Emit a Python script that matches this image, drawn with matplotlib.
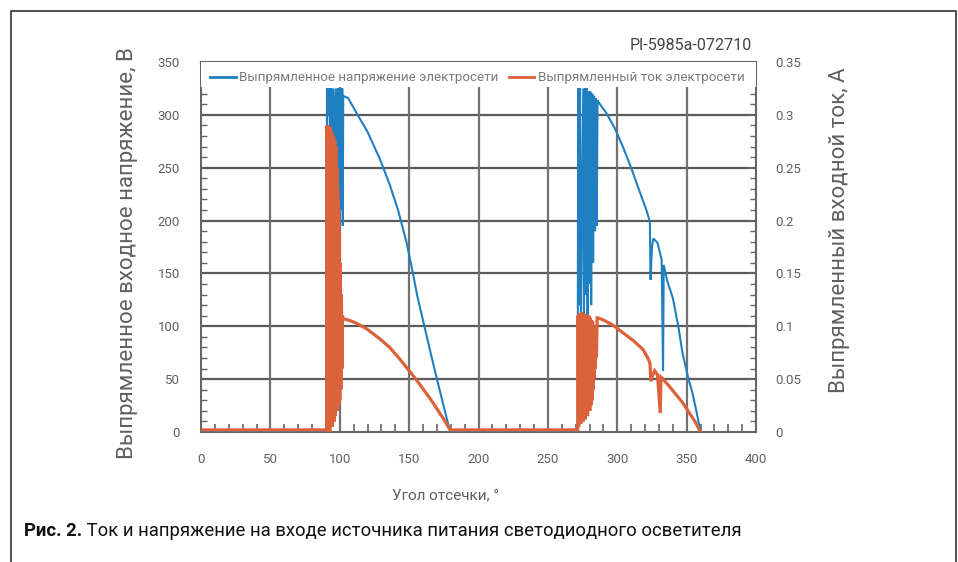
import matplotlib
matplotlib.use("Agg")
import matplotlib.pyplot as plt
from matplotlib.lines import Line2D
from matplotlib.patches import Rectangle
from matplotlib.ticker import MultipleLocator

# ---------------- data ----------------
# rectified mains voltage, V
volt_zero1_angle = [0, 90.5]
volt_zero1_val = [0, 0]
volt_osc1_angle = [90.6, 90.8, 91.5, 92.2, 93.0, 93.8, 94.6, 95.4, 96.3, 97.2, 98.0,
                   98.8, 99.6, 100.4, 101.2, 101.8, 102.2, 102.5]
volt_osc1_val = [0, 325, 300, 325, 280, 325, 270, 325, 265, 325, 250,
                 325, 230, 325, 210, 325, 195, 318]
volt_fall1_angle = [104, 106, 112, 120, 129, 136, 142, 148, 152, 156, 161, 166, 171, 175, 179, 180]
volt_fall1_val = [317, 316, 302, 284, 258, 234, 210, 180, 155, 128, 100, 72, 45, 24, 3, 0]
volt_zero2_angle = [180.5, 271.5]
volt_zero2_val = [0, 0]
volt_osc2_angle = [271.8, 272.3, 273.2, 273.8, 275.5, 276.0, 276.8, 277.3, 278.0, 278.6,
                   279.3, 279.8, 280.6, 281.2, 282.0, 282.6, 283.3, 284.0, 284.6, 285.2, 285.8]
volt_osc2_val = [325, 120, 325, 110, 325, 110, 325, 130, 325, 110,
                 322, 140, 322, 120, 320, 160, 318, 190, 316, 195, 314]
volt_fall2_angle = [286.5, 292, 298, 304, 310, 316, 321, 323.5, 324, 325, 326, 329, 332,
                    333, 333.5, 336, 340, 344, 347, 351, 354, 357, 359.6, 360]
volt_fall2_val = [312, 302, 288, 270, 250, 228, 210, 199, 144, 175, 183, 179, 163,
                  58, 158, 143, 127, 100, 75, 52, 38, 20, 3, 0]

# rectified mains current, A
curr_zero1_angle = [0, 90.5]
curr_zero1_val = [0.002, 0.002]
curr_osc1_angle = [90.8, 91.2, 91.6, 92.0, 92.4, 92.8, 93.2, 93.6, 94.0, 94.4, 94.8,
                   95.2, 95.6, 96.0, 96.4, 96.8, 97.2, 97.6, 98.0, 98.4, 98.8, 99.2,
                   99.6, 100.0, 100.4, 100.8, 101.2, 101.6, 102.0, 102.5]
curr_osc1_val = [0.29, 0.0, 0.29, 0.005, 0.288, 0.0, 0.288, 0.01, 0.285, 0.005, 0.282,
                 0.01, 0.28, 0.01, 0.275, 0.015, 0.27, 0.02, 0.25, 0.02, 0.22, 0.025,
                 0.19, 0.03, 0.16, 0.04, 0.13, 0.06, 0.11, 0.107]
curr_fall1_angle = [106, 112, 120, 129, 136, 142, 150, 156, 161, 166, 171, 175, 179.5]
curr_fall1_val = [0.106, 0.103, 0.097, 0.088, 0.080, 0.071, 0.058, 0.048, 0.039, 0.030,
                  0.020, 0.012, 0.002]
curr_zero2_angle = [180, 271.5]
curr_zero2_val = [0.002, 0.002]
curr_osc2_angle = [271.8, 272.2, 272.6, 273.0, 273.4, 273.8, 274.2, 274.6, 275.0, 275.4,
                   275.8, 276.2, 276.6, 277.0, 277.4, 277.8, 278.2, 278.6, 279.0, 279.4,
                   279.8, 280.2, 280.6, 281.0, 281.4, 281.8, 282.2, 282.6, 283.0, 283.4,
                   283.8, 284.2, 284.6, 285.0, 285.5]
curr_osc2_val = [0.11, 0.005, 0.112, 0.01, 0.11, 0.008, 0.113, 0.012, 0.11, 0.01,
                 0.112, 0.015, 0.11, 0.012, 0.111, 0.018, 0.11, 0.015, 0.108, 0.02,
                 0.11, 0.02, 0.108, 0.025, 0.106, 0.03, 0.105, 0.04, 0.1, 0.05,
                 0.09, 0.06, 0.1, 0.07, 0.108]
curr_fall2_angle = [286, 290, 297, 305, 312, 318.6, 322, 323.6, 324.2, 325, 327, 329,
                    331, 331.5, 333, 337, 342, 347, 352, 356, 359.6]
curr_fall2_val = [0.108, 0.106, 0.101, 0.093, 0.086, 0.078, 0.070, 0.065, 0.048, 0.052,
                  0.058, 0.054, 0.018, 0.052, 0.050, 0.044, 0.036, 0.028, 0.018, 0.010,
                  0.001]

x_ticks = [0, 50, 100, 150, 200, 250, 300, 350, 400]
v_ticks = [0, 50, 100, 150, 200, 250, 300, 350]
i_ticks = [0, 0.05, 0.1, 0.15, 0.2, 0.25, 0.3, 0.35]
i_tick_labels = ["0", "0.05", "0.1", "0.15", "0.2", "0.25", "0.3", "0.35"]

series_labels = ["Выпрямленное напряжение электросети", "Выпрямленный ток электросети"]
xlabel = "Угол отсечки, °"
ylabel_left = "Выпрямленное входное напряжение, В"
ylabel_right = "Выпрямленный входной ток, А"
ref_code = "PI-5985a-072710"
caption_bold = "Рис. 2."
caption_text = " Ток и напряжение на входе источника питания светодиодного осветителя"

volt_angle = volt_zero1_angle + volt_osc1_angle + volt_fall1_angle + volt_zero2_angle + volt_osc2_angle + volt_fall2_angle
volt_val = volt_zero1_val + volt_osc1_val + volt_fall1_val + volt_zero2_val + volt_osc2_val + volt_fall2_val
curr_angle = curr_zero1_angle + curr_osc1_angle + curr_fall1_angle + curr_zero2_angle + curr_osc2_angle + curr_fall2_angle
curr_val = curr_zero1_val + curr_osc1_val + curr_fall1_val + curr_zero2_val + curr_osc2_val + curr_fall2_val

# ---------------- styling ----------------
plt.rcParams["font.family"] = ["Roboto", "DejaVu Sans"]

BLUE = "#1f7fc0"
RED = "#dc623c"
GRID = "#5a5a5a"
TXT = "#606060"

W, H = 958, 562
fig = plt.figure(figsize=(W / 100, H / 100), dpi=100)
fig.patch.set_facecolor("white")

# outer frame
fig.add_artist(Rectangle((11 / W, -0.05), (956 - 11) / W, (H - 11) / H + 0.05,
                         transform=fig.transFigure, fill=False, edgecolor="#333333",
                         linewidth=1.2))

ax = fig.add_axes([201 / W, 130 / H, 555 / W, 370 / H])
ax.set_xlim(0, 400)
ax.set_ylim(0, 350)

# grid
for v in v_ticks[1:-1]:
    ax.axhline(v, color=GRID, lw=1.6, zorder=1)
for x in x_ticks[1:-1]:
    ax.plot([x, x], [0, 326], color="#727272", lw=1.6, zorder=1)

ax.plot(volt_angle, volt_val, color=BLUE, lw=1.5, zorder=3, solid_joinstyle="miter")

ax.set_xticks(x_ticks)
ax.set_yticks(v_ticks)
ax.xaxis.set_minor_locator(MultipleLocator(10))
ax.yaxis.set_minor_locator(MultipleLocator(10))
ax.tick_params(axis="both", which="major", direction="in", length=0, labelsize=9.5,
               labelcolor=TXT, pad=15)
ax.tick_params(axis="x", which="minor", direction="in", length=6, width=1.2, color="#666666")
ax.tick_params(axis="y", which="minor", direction="in", length=4, width=1.0, color="#666666")
for s in ax.spines.values():
    s.set_color("#666666")
    s.set_linewidth(1.5)

ax2 = ax.twinx()
ax2.set_ylim(0, 0.35)
ax2.plot(curr_angle, curr_val, color=RED, lw=2.3, zorder=3, solid_joinstyle="miter")
ax2.set_yticks(i_ticks)
ax2.set_yticklabels(i_tick_labels)
ax2.yaxis.set_minor_locator(MultipleLocator(0.01))
ax2.tick_params(axis="y", which="major", direction="in", length=6, width=1.2,
                color="#666666", labelsize=9.5, labelcolor=TXT, pad=14)
ax2.tick_params(axis="y", which="minor", direction="in", length=4, width=1.0, color="#666666")
for s in ax2.spines.values():
    s.set_visible(False)

# legend band
ax2.add_patch(Rectangle((0, 0.3265), 400, 0.0235, facecolor="white", edgecolor="none",
                        zorder=2.5))
handles = [Line2D([], [], color=BLUE, lw=2), Line2D([], [], color=RED, lw=2)]
leg = ax2.legend(handles, series_labels, loc="upper left", bbox_to_anchor=(0.0, 1.0),
                 ncol=2, frameon=False, fontsize=9.6, handlelength=1.9, handletextpad=0.25,
                 columnspacing=0.8, borderaxespad=0.3, labelcolor="#7a7a7a")

fig.text(752 / W, 1 - 46 / H, ref_code, ha="right", va="center", fontsize=11.5,
         color="#444444")
fig.text(446 / W, 1 - 495 / H, xlabel, ha="center", va="center", fontsize=11, color=TXT)
fig.text(128 / W, 1 - 253 / H, ylabel_left, ha="center", va="center", rotation=90,
         fontsize=16, color=TXT)
fig.text(839 / W, 1 - 230 / H, ylabel_right, ha="center", va="center", rotation=90,
         fontsize=16, color=TXT)

t1 = fig.text(24 / W, 1 - 531 / H, caption_bold, ha="left", va="center", fontsize=13.3,
              fontweight="bold", color="#111111")
fig.canvas.draw()
bb = t1.get_window_extent()
fig.text(bb.x1 / W, 1 - 531 / H, caption_text, ha="left", va="center", fontsize=13.3,
         color="#111111")

fig.savefig("out.png", dpi=100)
